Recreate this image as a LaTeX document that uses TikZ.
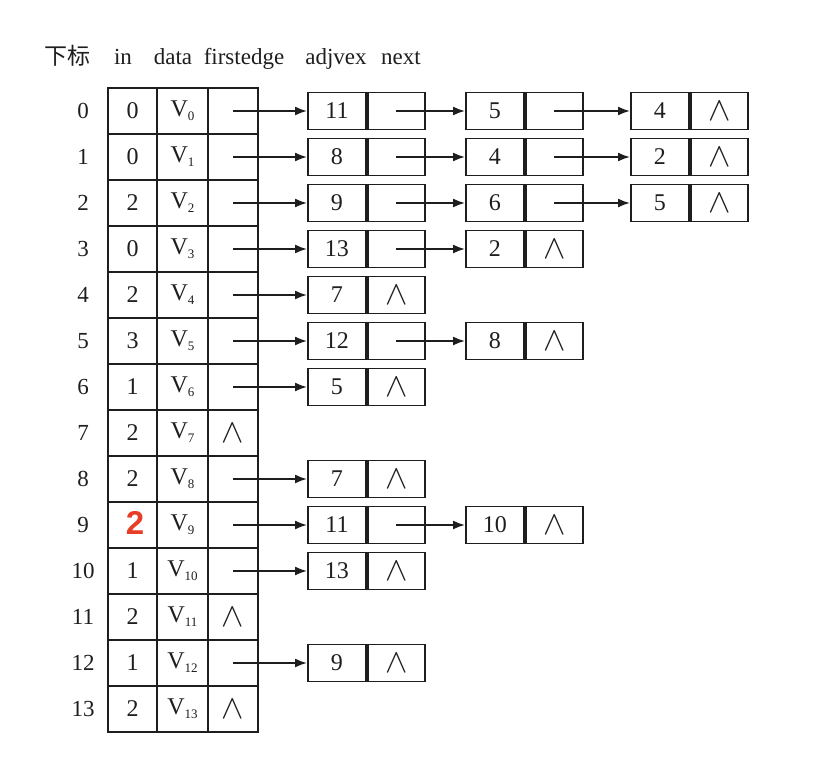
\documentclass[tikz,border=0pt]{standalone}
\usepackage{fontspec}
\setmainfont{Liberation Serif}
\newfontfamily\cjk{Noto Sans CJK SC}
\newfontfamily\redfont{Liberation Sans}
\usetikzlibrary{arrows.meta}
\definecolor{ink}{RGB}{30,30,30}
\definecolor{fixred}{RGB}{232,62,40}
\newcommand{\nil}{\scalebox{1.35}{$\wedge$}}
\newcommand{\vsub}[1]{V{\fontsize{13}{13}\selectfont\raisebox{-4pt}{#1}}}
\begin{document}
\begin{tikzpicture}[x=1pt,y=-1pt,
  line width=1.9pt, draw=ink, text=ink,
  cell/.style={draw=ink, line width=1.9pt, rectangle, inner sep=0pt, minimum height=46pt, font=\fontsize{24}{24}\selectfont},
  field/.style={draw=ink, line width=1.9pt, rectangle, inner sep=0pt, minimum height=37pt, anchor=west, font=\fontsize{24}{24}\selectfont},
  hdr/.style={font=\fontsize{23}{23}\selectfont, inner sep=0pt, anchor=base},
  idx/.style={font=\fontsize{23}{23}\selectfont, inner sep=0pt},
  nilmark/.style={font=\fontsize{24}{24}\selectfont, inner sep=0pt},
  ptr/.style={-{Latex[length=12pt,width=9pt]}, line width=1.7pt, draw=ink}]
\useasboundingbox (0,0) rectangle (828,758);
% header
\node[hdr] (h0) at (67,64) {\cjk 下标};
\node[hdr] (h1) at (123,64) {in};
\node[hdr] (h2) at (173,64) {data};
\node[hdr] (h3) at (244,64) {firstedge};
\node[hdr] (h4) at (336,64) {adjvex};
\node[hdr] (h5) at (401,64) {next};
% table
\foreach \i/\inv in {0/0,1/0,2/2,3/0,4/2,5/3,6/1,7/2,8/2,9/{},10/1,11/2,12/1,13/2}{
  \pgfmathsetmacro{\yy}{111+46*\i}
  \node[idx] (ix\i) at (83,\yy) {\i};
  \node[cell, minimum width=49pt] (in\i) at (132.5,\yy) {\inv};
  \node[cell, minimum width=51pt] (da\i) at (182.5,\yy) {\vsub{\i}};
  \node[cell, minimum width=50pt] (fe\i) at (233,\yy) {};
}
\node[font=\redfont\bfseries\fontsize{33}{33}\selectfont, text=fixred, inner sep=0pt] (red9) at (135,523) {2};
\foreach \i in {7,11,13}{ \node[nilmark] (nl\i) at (fe\i.center) {\nil}; }
% edge lists
\foreach \i/\vals in {0/{11/p,5/p,4/n},1/{8/p,4/p,2/n},2/{9/p,6/p,5/n},3/{13/p,2/n},4/{7/n},5/{12/p,8/n},6/{5/n},8/{7/n},9/{11/p,10/n},10/{13/n},12/{9/n}}{
  \pgfmathsetmacro{\yy}{111+46*\i}
  \foreach \v/\t [count=\j] in \vals {
    \ifcase\j\or\def\xx{307}\or\def\xx{465}\or\def\xx{630}\fi
    \node[field, minimum width=58pt] (a\i-\j) at (\xx,\yy) {\v};
    \if\t n
      \node[field, minimum width=57pt] (n\i-\j) at (a\i-\j.east) {\nil};
    \else
      \node[field, minimum width=57pt] (n\i-\j) at (a\i-\j.east) {};
    \fi
  }
  \draw[ptr] (fe\i.center) -- (a\i-1.west);
}
% chain pointers
\foreach \i/\j/\k in {0/1/2,0/2/3,1/1/2,1/2/3,2/1/2,2/2/3,3/1/2,5/1/2,9/1/2}{
  \draw[ptr] (n\i-\j.center) -- (a\i-\k.west);
}
\end{tikzpicture}
\end{document}
